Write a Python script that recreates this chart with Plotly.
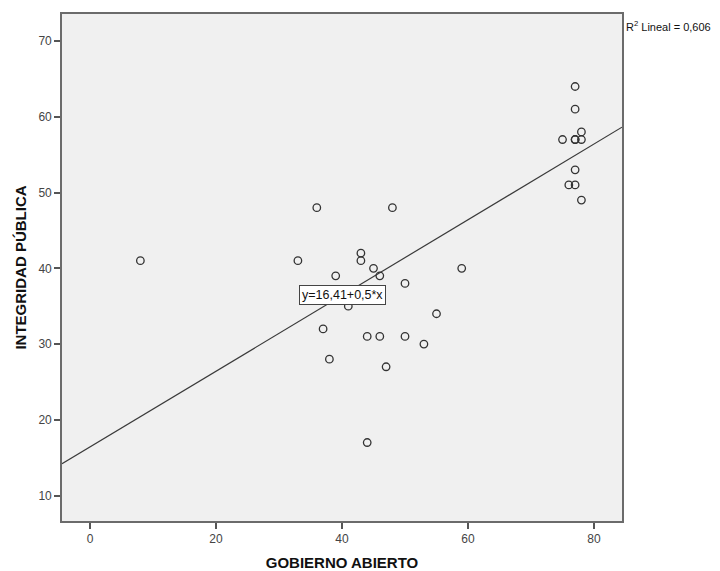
import plotly.graph_objects as go

# Data
gobierno_abierto = [8, 33, 36, 37, 38, 39, 41, 43, 43, 44, 44, 45, 46, 46, 47, 48,
                    50, 50, 53, 55, 59, 75, 76, 77, 77, 77, 77, 77, 77, 78, 78, 78]
integridad_publica = [41, 41, 48, 32, 28, 39, 35, 42, 41, 31, 17, 40, 39, 31, 27, 48,
                      38, 31, 30, 34, 40, 57, 51, 64, 61, 57, 57, 53, 51, 58, 57, 49]

fit_intercept = 16.41
fit_slope = 0.5
r2_text = "R<sup>2</sup> Lineal = 0,606"
eq_text = "y=16,41+0,5*x"

x_ticks = [0, 20, 40, 60, 80]
y_ticks = [10, 20, 30, 40, 50, 60, 70]

x_range = [-4.44, 84.44]
y_range = [6.64, 73.57]

line_x = list(x_range)
line_y = [fit_intercept + fit_slope * v for v in line_x]

FONT = "Liberation Sans, Arial, sans-serif"

fig = go.Figure()
fig.add_trace(go.Scatter(
    x=line_x, y=line_y, mode="lines",
    line=dict(color="#3a3a3a", width=1.2),
    hoverinfo="skip", showlegend=False, cliponaxis=True,
))
fig.add_trace(go.Scatter(
    x=gobierno_abierto, y=integridad_publica, mode="markers",
    marker=dict(symbol="circle-open", size=7.5, color="#333333",
                line=dict(color="#333333", width=1.3)),
    showlegend=False,
))

fig.add_annotation(
    x=40.0, y=36.5, xref="x", yref="y", text=eq_text, showarrow=False,
    font=dict(family=FONT, size=12.5, color="#111111"),
    bgcolor="white", bordercolor="#444444", borderwidth=1, borderpad=2,
)
fig.add_annotation(
    x=1.0, y=1.0, xref="paper", yref="paper", xanchor="left", yanchor="top",
    xshift=2, yshift=-3, text=r2_text, showarrow=False,
    font=dict(family=FONT, size=11, color="#111111"),
)

axis_common = dict(
    showgrid=False, zeroline=False, showline=True, mirror=True,
    linecolor="#6b6b6b", linewidth=1.6,
    ticks="outside", ticklen=6, tickwidth=1.5, tickcolor="#555555",
    tickfont=dict(family=FONT, size=12, color="#444444"),
    automargin=False,
)

fig.update_xaxes(range=x_range, tickvals=x_ticks, **axis_common,
                 title=dict(text="<b>GOBIERNO ABIERTO</b>",
                            font=dict(family=FONT, size=15, color="#111111"),
                            standoff=12))
fig.update_yaxes(range=y_range, tickvals=y_ticks, **axis_common,
                 title=dict(text="<b>INTEGRIDAD PÚBLICA</b>",
                            font=dict(family=FONT, size=15, color="#111111"),
                            standoff=8))

# The page body has an 8px default margin, so the figure is shrunk by 8px
fig.update_layout(
    width=712, height=563,
    margin=dict(l=54, r=98, t=6, b=50),
    plot_bgcolor="#f0f0f0", paper_bgcolor="white",
)

fig.write_html("out.html")
